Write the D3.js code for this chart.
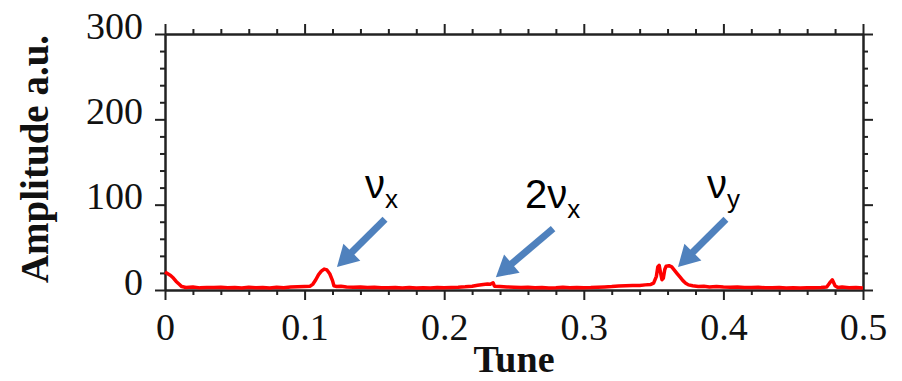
<!DOCTYPE html>
<html>
<head>
<meta charset="utf-8">
<script src="https://cdn.jsdelivr.net/npm/d3@7"></script>
<style>
  html, body { margin: 0; padding: 0; background: #fff; }
  svg { display: block; }
</style>
</head>
<body>
<svg id="chart" width="902" height="381"></svg>
<script>
// Tune spectrum: amplitude (a.u.) versus tune
const tune = [
  0.000, 0.002, 0.004, 0.006, 0.008, 0.010, 0.012, 0.015, 0.020, 0.025,
  0.030, 0.035, 0.040, 0.045, 0.050, 0.055, 0.060, 0.065, 0.070, 0.075,
  0.080, 0.085, 0.090, 0.095, 0.100, 0.104, 0.106, 0.108, 0.110, 0.112,
  0.114, 0.116, 0.118, 0.120, 0.121, 0.123, 0.126, 0.130, 0.135, 0.140,
  0.145, 0.150, 0.155, 0.160, 0.165, 0.170, 0.175, 0.180, 0.185, 0.190,
  0.195, 0.200, 0.205, 0.210, 0.215, 0.220, 0.224, 0.228, 0.231, 0.233,
  0.235, 0.236, 0.240, 0.245, 0.250, 0.255, 0.260, 0.265, 0.270, 0.275,
  0.280, 0.285, 0.290, 0.295, 0.300, 0.305, 0.310, 0.315, 0.320, 0.325,
  0.330, 0.335, 0.340, 0.344, 0.348, 0.350, 0.352, 0.353, 0.354, 0.355,
  0.356, 0.357, 0.358, 0.359, 0.361, 0.363, 0.365, 0.367, 0.369, 0.371,
  0.373, 0.375, 0.378, 0.382, 0.386, 0.390, 0.395, 0.400, 0.405, 0.410,
  0.415, 0.420, 0.425, 0.430, 0.435, 0.440, 0.445, 0.450, 0.455, 0.460,
  0.465, 0.470, 0.474, 0.476, 0.478, 0.480, 0.482, 0.485, 0.490, 0.495,
  0.500
];
const amplitude = [
  21, 19, 17, 14, 10, 7, 4, 3, 3.5, 2.5,
  3, 2.8, 3.3, 2.6, 3, 2.4, 3.2, 2.7, 2.9, 2.3,
  3.1, 2.6, 3.4, 3.8, 4.2, 4.5, 7, 12, 18, 22,
  24.5, 23.5, 19, 11, 5, 4, 4.5, 3.5, 3.2, 3.6,
  2.8, 3.1, 2.7, 2.5, 3, 2.4, 2.8, 2.3, 2.7, 2.4,
  2.9, 2.6, 3, 3.3, 3.8, 4.5, 5.5, 6.5, 7, 6.8,
  8.5, 4.5, 4, 3.5, 3.2, 2.8, 3.1, 2.6, 2.9, 2.4,
  2.7, 3.2, 2.6, 3, 2.5, 2.8, 3.3, 3.6, 4, 4.6,
  5, 5.4, 5.2, 6, 6.5, 8, 16, 27, 29, 20,
  12, 14, 24, 28, 28.5, 27, 23, 19, 15, 11,
  8, 6, 5, 4.2, 4.4, 3.6, 4, 3.5, 3.3, 3.6,
  3, 2.8, 3.1, 2.7, 2.5, 2.9, 2.4, 2.6, 2.3, 2.7,
  2.5, 2.8, 3.5, 8, 12, 5, 3, 3.4, 2.6, 2.9,
  2.4
];

// Axis ticks
const xMajorTicks = [0, 0.1, 0.2, 0.3, 0.4, 0.5];
const xTickLabels = ["0", "0.1", "0.2", "0.3", "0.4", "0.5"];
const yMajorTicks = [0, 100, 200, 300];
const yTickLabels = ["0", "100", "200", "300"];

// Peak annotations: text anchor and arrow tail / tip, in data units
const peakNames = ["ν", "2ν", "ν"];
const peakSubs = ["x", "x", "y"];
const labelTune = [0.1433, 0.2579, 0.3883];
const labelAmp = [108, 96, 108];
const arrowTailTune = [0.1576, 0.2780, 0.4018];
const arrowTailAmp = [83, 72, 83];
const arrowTipTune = [0.1232, 0.2370, 0.3675];
const arrowTipAmp = [27, 15, 27];

const margin = { left: 165, right: 39, top: 34, bottom: 91 };
const W = 902, H = 381;
const svg = d3.select("#chart");

const x = d3.scaleLinear().domain([0, 0.5]).range([margin.left, W - margin.right]);
const y = d3.scaleLinear().domain([0, 300]).range([H - margin.bottom, margin.top]);

const axisColor = "#222";
const serif = "'Liberation Serif', 'Times New Roman', serif";
const sans = "'Liberation Sans', Arial, sans-serif";

const xMinor = d3.range(0, 26).map(i => i * 0.02).filter(v => xMajorTicks.every(m => Math.abs(m - v) > 1e-9));
const yMinor = d3.range(0, 16).map(i => i * 20).filter(v => v % 100 !== 0);

function styleAxis(g) {
  g.selectAll("path.domain").attr("stroke", axisColor).attr("stroke-width", 2);
  g.selectAll(".tick line").attr("stroke", axisColor).attr("stroke-width", 2);
}

// Four framed axes with outward ticks: major 10 px, minor 5 px
function drawAxis(axisFn, scale, translate, majors, minors, labels) {
  const gMin = svg.append("g").attr("transform", translate)
    .call(axisFn(scale).tickValues(minors).tickSize(5).tickSizeOuter(0).tickFormat(""));
  styleAxis(gMin);
  const gMaj = svg.append("g").attr("transform", translate)
    .call(axisFn(scale).tickValues(majors).tickSize(10).tickSizeOuter(0)
      .tickFormat((d, i) => labels ? labels[i] : ""));
  styleAxis(gMaj);
  gMaj.selectAll("text").attr("fill", "#111").style("font-family", serif).style("font-size", "38px");
  return gMaj;
}

const gBottom = drawAxis(d3.axisBottom, x, `translate(0,${y(0)})`, xMajorTicks, xMinor, xTickLabels);
gBottom.selectAll("text").attr("y", 0).attr("dy", null).attr("transform", "translate(0,50)");
drawAxis(d3.axisTop, x, `translate(0,${y(300)})`, xMajorTicks, xMinor, null);
const gLeft = drawAxis(d3.axisLeft, y, `translate(${x(0)},0)`, yMajorTicks, yMinor, yTickLabels);
gLeft.selectAll("text").attr("x", -22).attr("dy", null).attr("transform", "translate(0,4)");
drawAxis(d3.axisRight, y, `translate(${x(0.5)},0)`, yMajorTicks, yMinor, null);

// Axis titles
svg.append("text")
  .attr("x", (x(0) + x(0.5)) / 2).attr("y", 372)
  .attr("text-anchor", "middle")
  .style("font-family", serif).style("font-weight", "bold").style("font-size", "38px")
  .attr("fill", "#111")
  .text("Tune");

svg.append("text")
  .attr("transform", `translate(48,${(y(0) + y(300)) / 2 - 3}) rotate(-90)`)
  .attr("text-anchor", "middle")
  .style("font-family", serif).style("font-weight", "bold").style("font-size", "39px")
  .attr("fill", "#111")
  .text("Amplitude a.u.");

// Spectrum trace
const points = tune.map((t, i) => [t, amplitude[i]]);
const line = d3.line().x(d => x(d[0])).y(d => y(d[1]));
svg.append("path")
  .datum(points)
  .attr("fill", "none")
  .attr("stroke", "#ff0000")
  .attr("stroke-width", 3.5)
  .attr("stroke-linejoin", "round")
  .attr("d", line);

// Peak labels with subscripts
peakNames.forEach((name, i) => {
  const t = svg.append("text")
    .attr("x", x(labelTune[i])).attr("y", y(labelAmp[i]))
    .style("font-family", sans).style("font-size", "40px")
    .attr("fill", "#000");
  t.append("tspan").text(name);
  t.append("tspan").attr("dy", 10).style("font-size", "26px").text(peakSubs[i]);
});

// Blue arrows pointing at the peaks
const arrowColor = "#4f81bd";
peakNames.forEach((_, i) => {
  const x0 = x(arrowTailTune[i]), y0 = y(arrowTailAmp[i]);
  const x1 = x(arrowTipTune[i]), y1 = y(arrowTipAmp[i]);
  const dx = x1 - x0, dy = y1 - y0;
  const len = Math.hypot(dx, dy);
  const ux = dx / len, uy = dy / len;
  const px = -uy, py = ux;
  const headLen = 21, headHalf = 12;
  const bx = x1 - ux * headLen, by = y1 - uy * headLen;
  svg.append("line")
    .attr("x1", x0).attr("y1", y0).attr("x2", bx + ux * 2).attr("y2", by + uy * 2)
    .attr("stroke", arrowColor).attr("stroke-width", 7);
  svg.append("path")
    .attr("d", `M${x1},${y1} L${bx + px * headHalf},${by + py * headHalf} L${bx - px * headHalf},${by - py * headHalf} Z`)
    .attr("fill", arrowColor);
});
</script>
</body>
</html>
